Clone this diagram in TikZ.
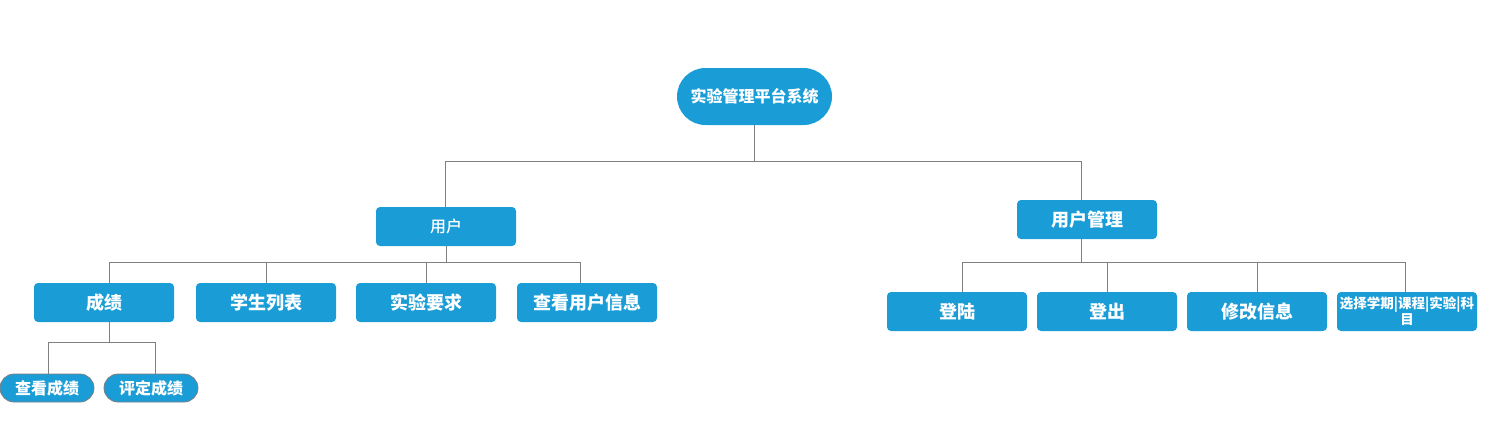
\documentclass[tikz,border=0pt]{standalone}
\usepackage{fontspec}
\setmainfont{Noto Sans CJK SC}
\newfontfamily\medfont{Noto Sans CJK SC Medium}
\usetikzlibrary{shapes.misc}
\definecolor{mblue}{HTML}{1A9CD6}
\definecolor{lgray}{HTML}{808080}
\tikzset{
  box/.style={fill=mblue, rounded corners=4pt, minimum width=140pt, minimum height=39pt, inner sep=0pt, text=white, font=\bfseries\fontsize{18}{20}\selectfont},
  pill/.style={rounded rectangle, draw=lgray, line width=0.8pt, fill=mblue, minimum width=94pt, minimum height=28pt, inner sep=0pt, text=white, font=\bfseries\fontsize{16}{18}\selectfont},
  link/.style={draw=lgray, line width=1pt}
}
\begin{document}
\begin{tikzpicture}[x=1pt,y=-1pt]
\useasboundingbox (0,0) rectangle (1485,421);
\node[rounded rectangle, fill=mblue, minimum width=155pt, minimum height=57pt, inner sep=0pt, text=white, font=\bfseries\fontsize{16}{18}\selectfont] (root) at (754.5,96.5) {实验管理平台系统};
\node[box, font=\medfont\fontsize{16}{18}\selectfont] (u) at (446,226.5) {用户};
\node[box] (um) at (1087,219.5) {用户管理};
\node[box] (c1) at (104,302.5) {成绩};
\node[box] (c2) at (266,302.5) {学生列表};
\node[box] (c3) at (426,302.5) {实验要求};
\node[box] (c4) at (587,302.5) {查看用户信息};
\node[pill] (g1) at (47,388) {查看成绩};
\node[pill] (g2) at (151,388) {评定成绩};
\node[box] (r1) at (957,311.5) {登陆};
\node[box] (r2) at (1107,311.5) {登出};
\node[box] (r3) at (1257,311.5) {修改信息};
\node[box, font=\bfseries\fontsize{13.5}{14}\selectfont, align=center] (r4) at (1407,311.5) {选择学期|课程|实验|科\\[0pt]目};
\coordinate (j0) at (754.5,161);
\coordinate (j1) at (446,262);
\coordinate (j2) at (109,342);
\coordinate (j3) at (1081,262);
\draw[link] (root.south) -- (j0);
\draw[link] ([xshift=-1pt]u.north) |- (j0);
\draw[link] ([xshift=-6pt]um.north) |- (j0);
\draw[link] (u.south) -- (j1);
\draw[link] ([xshift=5pt]c1.north) |- (j1);
\draw[link] (c2.north) |- (j1);
\draw[link] (c3.north) |- (j1);
\draw[link] ([xshift=-7pt]c4.north) |- (j1);
\draw[link] ([xshift=5pt]c1.south) -- (j2);
\draw[link] ([xshift=1pt]g1.north) |- (j2);
\draw[link] ([xshift=4pt]g2.north) |- (j2);
\draw[link] ([xshift=-6pt]um.south) -- (j3);
\draw[link] ([xshift=5pt]r1.north) |- (j3);
\draw[link] (r2.north) |- (j3);
\draw[link] (r3.north) |- (j3);
\draw[link] ([xshift=-2pt]r4.north) |- (j3);
\end{tikzpicture}
\end{document}
